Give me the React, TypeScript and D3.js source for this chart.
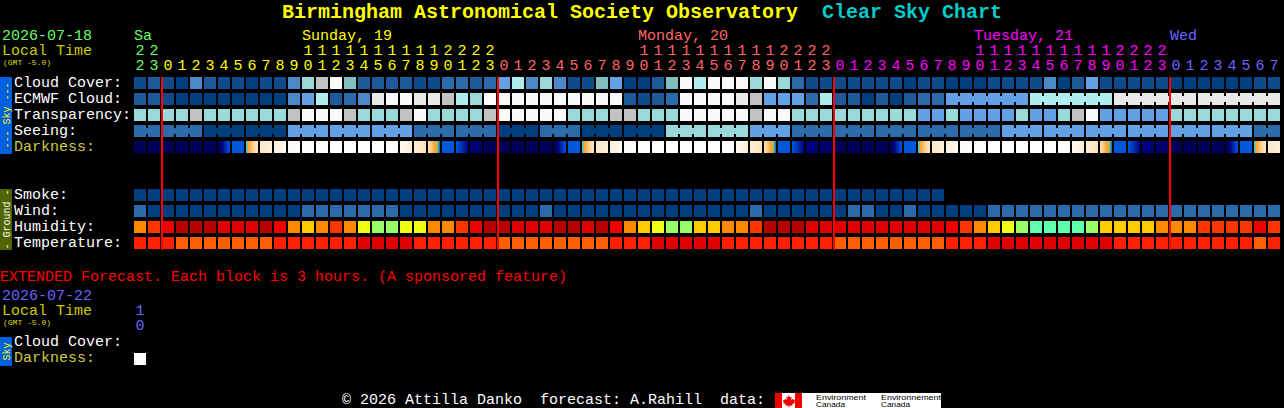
import * as d3 from "d3";

const hours = [
  22, 23, 0, 1, 2, 3, 4, 5, 6, 7, 8, 9, 10, 11, 12, 13, 14, 15, 16, 17, 18, 19, 20, 21, 22, 23,
  0, 1, 2, 3, 4, 5, 6, 7, 8, 9, 10, 11, 12, 13, 14, 15, 16, 17, 18, 19, 20, 21, 22, 23,
  0, 1, 2, 3, 4, 5, 6, 7, 8, 9, 10, 11, 12, 13, 14, 15, 16, 17, 18, 19, 20, 21, 22, 23,
  0, 1, 2, 3, 4, 5, 6, 7,
];
const dayStarts = [0, 2, 26, 50, 74];
const dayColors = ["#66ff66", "#ffff00", "#ff6666", "#ff00ff", "#6666ff"];
const dayLabels = [
  { cell: 0, text: "Sa", day: 0 },
  { cell: 12, text: "Sunday, 19", day: 1 },
  { cell: 36, text: "Monday, 20", day: 2 },
  { cell: 60, text: "Tuesday, 21", day: 3 },
  { cell: 74, text: "Wed", day: 4 },
];
const midnights = [2, 26, 50, 74];

const skyRows = ["Cloud Cover:", "ECMWF Cloud:", "Transparency:", "Seeing:", "Darkness:"];
const groundRows = ["Smoke:", "Wind:", "Humidity:", "Temperature:"];

// sky shades, dark blue (clear) to white
const skyPalette = [
  "#003f7f", "#0d4b8b", "#1c5a9a", "#2c6bab", "#4a88c8", "#62a2e4", "#7fbfbf",
  "#99d9d9", "#afeeee", "#c2c2c2", "#e9e9e9", "#f9f9f9", "#ffffff",
];
const humidityPalette = ["#b80000", "#e00000", "#ee0000", "#ff3300", "#ff8800", "#ffcc00", "#eeff11", "#99ff66", "#5fffb0"];
const temperaturePalette = ["#e00000", "#ff2000", "#ff5f00"];

const cloudCover = [
  1, 2, 1, 0, 4, 2, 1, 1, 0, 1, 1, 4, 7, 9, 11, 6, 2, 2, 2, 2, 1, 1,
  3, 3, 2, 3, 5, 8, 4, 7, 4, 1, 1, 6, 5, 0, 0, 2, 6, 11, 8, 11, 11, 11, 7, 11, 7, 3, 1, 1, 1, 1,
  1, 1, 1, 0, 1, 1, 0, 0, 0, 1, 1, 1, 1, 4, 0, 2, 5, 1, 1, 1, 1, 1, 0, 0, 0, 0, 0, 0, 1, 1,
];
const ecmwfCloud = [
  2, 2, 1, 0, 0, 0, 0, 0, 0, 0, 0, 4, 5, 8, 2, 3, 4, 10, 11, 11, 10, 10,
  9, 8, 7, 12, 11, 11, 11, 11, 11, 11, 11, 11, 11, 2, 1, 2, 3, 11, 11, 11, 11, 10, 9, 5, 5, 5, 3, 8, 2, 2,
  0, 2, 0, 2, 3, 3, 5, 5, 5, 5, 5, 5, 8, 8, 8, 8, 8, 8, 10, 10, 10, 10, 10, 10, 10, 10, 10, 10, 10, 10,
];
const transparency = [
  7, 7, 7, 7, 9, 7, 7, 7, 7, 7, 7, 9, 11, 11, 11, 9, 7, 7, 7, 9, 11, 7,
  7, 7, 7, 9, 11, 11, 11, 11, 11, 7, 7, 7, 9, 9, 7, 7, 7, 11, 11, 11, 11, 11, 9, 11, 11, 7, 7, 7, 7, 7,
  7, 7, 7, 7, 5, 5, 7, 5, 5, 5, 5, 7, 5, 5, 7, 9, 11, 5, 5, 5, 5, 5, 7, 7, 7, 7, 7, 7, 7, 7,
];
// seeing comes in 3 hour blocks
const seeingBlockSizes = [2, 3, 3, 3, 3, 3, 3, 3, 3, 3, 3, 3, 3, 3, 3, 3, 3, 3, 3, 3, 3, 3, 3, 3, 3, 3, 3, 2];
const seeingBlocks = [3, 3, 0, 0, 5, 5, 5, 3, 3, 0, 3, 0, 0, 7, 7, 5, 3, 3, 3, 3, 3, 5, 5, 5, 5, 5, 5, 3];
// ECMWF goes to 6 hour blocks at the far end
const ecmwfBlockStarts = [58, 64, 70, 76];
const ecmwfBlockSize = 6;

const smoke = [
  0, 0, 0, 0, 0, 0, 0, 0, 0, 0, 0, 0, 0, 0, 0, 0, 0, 0, 0, 0, 0, 0, 0, 0, 0, 0, 0, 0, 0,
  0, 0, 0, 0, 0, 0, 0, 0, 0, 0, 0, 0, 0, 0, 0, 0, 0, 0, 0, 0, 0, 0, 0, 0, 0, 0, 0, 0, 0,
];
const wind = [
  3, 0, 0, 0, 0, 0, 0, 0, 0, 0, 0, 0, 3, 3, 3, 3, 3, 3, 3, 0, 0, 0,
  0, 0, 0, 0, 0, 0, 0, 3, 0, 0, 0, 0, 0, 0, 0, 0, 0, 0, 0, 0, 0, 0, 3, 0, 0, 0, 0, 0, 0, 3,
  3, 0, 0, 3, 0, 0, 0, 0, 0, 3, 3, 3, 3, 3, 3, 3, 3, 3, 3, 3, 3, 3, 3, 3, 3, 3, 3, 3, 3, 3,
];
const humidity = [
  4, 3, 2, 0, 0, 0, 1, 1, 1, 0, 2, 4, 5, 4, 3, 4, 6, 7, 7, 6, 6, 4,
  4, 3, 2, 0, 0, 1, 1, 1, 0, 0, 1, 0, 2, 4, 5, 6, 7, 7, 5, 5, 4, 4, 3, 0, 0, 0, 1, 1, 1, 1,
  1, 1, 1, 1, 1, 1, 2, 3, 4, 5, 6, 7, 8, 8, 8, 8, 7, 5, 5, 5, 5, 4, 4, 4, 3, 3, 3, 3, 2, 3,
];
const temperature = [
  1, 1, 1, 2, 2, 2, 2, 2, 2, 2, 1, 1, 1, 1, 1, 1, 0, 0, 0, 0, 1, 1,
  1, 1, 1, 1, 2, 2, 2, 2, 2, 2, 2, 2, 1, 1, 1, 0, 0, 0, 0, 0, 1, 1, 1, 1, 1, 1, 1, 1, 2, 2,
  2, 2, 2, 2, 2, 2, 1, 1, 1, 0, 0, 0, 0, 0, 0, 0, 0, 0, 1, 1, 1, 1, 1, 1, 1, 1, 1, 1, 2, 1,
];

// darkness is sampled a few times inside each cell because it changes within the hour
const darknessStops = ["#000058", "#000080", "#0030b0", "#0058dc", "#00e0e0", "#80c860", "#ffa030", "#ffd090", "#ffe8c8", "#fff4e6", "#ffffff"];
const darkness: number[][] = [
  [0], [0], [0], [0], [0], [0], [0, 1, 2, 3], [3], [4, 6, 6.5, 7, 7.5, 8], [8, 8.5], [8.5, 9.5],
  [9.5, 10], [10], [10], [10], [10], [10], [10], [10, 9.5], [9.5, 8.5], [8.5, 7.8], [7.5, 7, 6.5, 6, 5, 3],
  [3], [3, 2, 1], [1, 0.5], [0], [0], [0], [0], [0], [0, 1, 2, 3], [3], [4, 6, 6.5, 7, 7.5, 8], [8, 8.5], [8.5, 9.5],
  [9.5, 10], [10], [10], [10], [10], [10], [10], [10, 9.5], [9.5, 8.5], [8.5, 7.8], [7.5, 7, 6.5, 6, 5, 3],
  [3], [3, 2, 1], [1, 0.8], [0.5], [0], [0], [0], [0], [0, 1, 2, 3], [3], [4, 6, 6.5, 7, 7.5, 8], [8, 8.5], [8.5, 9.5],
  [9.5, 10], [10], [10], [10], [10], [10], [10], [10, 9.5], [9.5, 8.5], [8.5, 7.8], [7.5, 7, 6.5, 6, 5, 3],
  [3], [3, 2, 1], [1, 0.8], [0.5], [0], [0], [0], [0], [0, 1, 2, 3], [3], [4, 6, 6.5, 7, 7.5, 8], [8, 8.5],
];

const extendedDarkness = [10];

const mono = "'Liberation Mono', monospace";
const cellHeight = 12;

const x = d3
  .scaleBand<number>()
  .domain(d3.range(hours.length))
  .range([133, 1281])
  .paddingInner(1 / 7)
  .paddingOuter(1 / 14);

const skyY = d3.scaleBand<string>().domain(skyRows).range([77, 157]);
const groundY = d3.scaleBand<string>().domain(groundRows).range([189, 253]);

const skyColor = d3.scaleOrdinal<number, string>().domain(d3.range(skyPalette.length)).range(skyPalette);
const humidityColor = d3.scaleOrdinal<number, string>().domain(d3.range(humidityPalette.length)).range(humidityPalette);
const temperatureColor = d3.scaleOrdinal<number, string>().domain(d3.range(temperaturePalette.length)).range(temperaturePalette);
const darknessColor = d3
  .scaleLinear<string>()
  .domain(d3.range(darknessStops.length))
  .range(darknessStops)
  .interpolate(d3.interpolateRgb);

const dayOf = (i: number) => d3.bisectRight(dayStarts, i) - 1;

// seeing per cell, expanded from the blocks
const seeing = seeingBlockSizes.flatMap((size, i) => d3.range(size).map(() => seeingBlocks[i]));

// cell indexes whose right edge joins the next cell
const seeingJoins: number[] = [];
let cursor = 0;
seeingBlockSizes.forEach((size) => {
  d3.range(size - 1).forEach((k) => seeingJoins.push(cursor + k));
  cursor += size;
});
const ecmwfJoins = ecmwfBlockStarts.flatMap((s) => d3.range(ecmwfBlockSize - 1).map((k) => s + k));

function Row({ y, values, color }: { y: number; values: number[]; color: (v: number) => string }) {
  return (
    <g shapeRendering="crispEdges">
      {values.map((v, i) => (
        <rect key={i} x={x(i)} y={y} width={x.bandwidth()} height={cellHeight} fill={color(v)} />
      ))}
    </g>
  );
}

function Joins({ y, cells, values, color }: { y: number; cells: number[]; values: number[]; color: (v: number) => string }) {
  return (
    <g shapeRendering="crispEdges">
      {cells.map((c) => (
        <rect key={c} x={(x(c) ?? 0) + x.bandwidth()} y={y + 3} width={x.step() - x.bandwidth()} height={6} fill={color(values[c])} />
      ))}
    </g>
  );
}

function Label({ x: lx, y, fill = "#ffffff", children }: { x: number; y: number; fill?: string; children: React.ReactNode }) {
  return (
    <text x={lx} y={y} fill={fill} fontFamily={mono} fontSize={15} style={{ whiteSpace: "pre" }}>
      {children}
    </text>
  );
}

function SideBar({ y, height, fill, color, text, size = 10 }: { y: number; height: number; fill: string; color: string; text: string; size?: number }) {
  const cy = y + height / 2;
  return (
    <g>
      <rect x={0} y={y} width={12} height={height} fill={fill} shapeRendering="crispEdges" />
      <text
        transform={`translate(9.5,${cy}) rotate(-90)`}
        textAnchor="middle"
        fill={color}
        fontFamily={mono}
        fontSize={size}
      >
        {text}
      </text>
    </g>
  );
}

export default function App() {
  return (
    <svg
      width={1284}
      height={408}
      viewBox="0 0 1284 408"
      style={{ position: "fixed", left: 0, top: 0, background: "#000" }}
    >
      <defs>
        {darkness.map((samples, i) =>
          samples.length > 1 ? (
            <linearGradient key={i} id={`dark-${i}`}>
              {samples.map((s, k) => (
                <stop key={k} offset={k / (samples.length - 1)} stopColor={darknessColor(s)} />
              ))}
            </linearGradient>
          ) : null
        )}
      </defs>

      <text y={18} fontFamily={mono} fontSize={20} fontWeight="bold" style={{ whiteSpace: "pre" }}>
        <tspan x={282} fill="#ffff00">Birmingham Astronomical Society Observatory</tspan>
        <tspan x={822} fill="#00cccc">Clear Sky Chart</tspan>
      </text>

      <Label x={2} y={40} fill="#66ff66">2026-07-18</Label>
      <Label x={2} y={55} fill="#cccc00">Local Time</Label>
      <text x={3} y={65} fill="#dddd00" fontFamily={mono} fontSize={8}>(GMT -5.0)</text>

      {dayLabels.map((d) => (
        <Label key={d.text} x={x(d.cell) ?? 0} y={40} fill={dayColors[d.day]}>{d.text}</Label>
      ))}

      {hours.map((h, i) => {
        const cx = (x(i) ?? 0) + x.bandwidth() / 2;
        const fill = dayColors[dayOf(i)];
        return (
          <g key={i} fontFamily={mono} fontSize={15} textAnchor="middle" fill={fill}>
            {h >= 10 && <text x={cx} y={55}>{Math.floor(h / 10)}</text>}
            <text x={cx} y={70}>{h % 10}</text>
          </g>
        );
      })}

      <SideBar y={77} height={77} fill="#0060e0" color="#ffff00" text="--- Sky ---" />
      <SideBar y={189} height={61} fill="#506400" color="#ffffff" text="- Ground -" />

      {skyRows.map((name) => (
        <Label key={name} x={14} y={(skyY(name) ?? 0) + 10} fill={name === "Darkness:" ? "#cccc44" : "#ffffff"}>{name}</Label>
      ))}
      {groundRows.map((name) => (
        <Label key={name} x={14} y={(groundY(name) ?? 0) + 10}>{name}</Label>
      ))}

      <Row y={skyY("Cloud Cover:") ?? 0} values={cloudCover} color={skyColor} />
      <Row y={skyY("ECMWF Cloud:") ?? 0} values={ecmwfCloud} color={skyColor} />
      <Joins y={skyY("ECMWF Cloud:") ?? 0} cells={ecmwfJoins} values={ecmwfCloud} color={skyColor} />
      <Row y={skyY("Transparency:") ?? 0} values={transparency} color={skyColor} />
      <Row y={skyY("Seeing:") ?? 0} values={seeing} color={skyColor} />
      <Joins y={skyY("Seeing:") ?? 0} cells={seeingJoins} values={seeing} color={skyColor} />

      <g shapeRendering="crispEdges">
        {darkness.map((samples, i) => (
          <rect
            key={i}
            x={x(i)}
            y={skyY("Darkness:")}
            width={x.bandwidth()}
            height={cellHeight}
            fill={samples.length > 1 ? `url(#dark-${i})` : darknessColor(samples[0])}
          />
        ))}
      </g>

      <Row y={groundY("Smoke:") ?? 0} values={smoke} color={skyColor} />
      <Row y={groundY("Wind:") ?? 0} values={wind} color={skyColor} />
      <Row y={groundY("Humidity:") ?? 0} values={humidity} color={humidityColor} />
      <Row y={groundY("Temperature:") ?? 0} values={temperature} color={temperatureColor} />

      {midnights.map((m) => (
        <rect key={m} x={(x(m) ?? 0) - 1} y={77} width={2} height={173} fill="#ff0000" shapeRendering="crispEdges" />
      ))}

      <Label x={0} y={281} fill="#ff0000">EXTENDED Forecast. Each block is 3 hours. (A sponsored feature)</Label>
      <Label x={2} y={300} fill="#6666ff">2026-07-22</Label>
      <Label x={2} y={315} fill="#cccc00">Local Time</Label>
      <text x={3} y={325} fill="#dddd00" fontFamily={mono} fontSize={8}>(GMT -5.0)</text>
      <g fontFamily={mono} fontSize={15} textAnchor="middle" fill="#6666ff">
        <text x={(x(0) ?? 0) + x.bandwidth() / 2} y={315}>1</text>
        <text x={(x(0) ?? 0) + x.bandwidth() / 2} y={330}>0</text>
      </g>
      <SideBar y={337} height={29} fill="#0060e0" color="#ffff00" text="Sky" />
      <Label x={14} y={346}>Cloud Cover:</Label>
      <Label x={14} y={362} fill="#cccc44">Darkness:</Label>
      <Row y={353} values={extendedDarkness} color={(v) => darknessColor(v)} />

      <Label x={342} y={404}>© 2026 Attilla Danko  forecast: A.Rahill  data:</Label>

      <g>
        <rect x={775} y={393} width={166} height={15} fill="#ffffff" shapeRendering="crispEdges" />
        <rect x={775} y={393} width={7} height={15} fill="#ee0000" shapeRendering="crispEdges" />
        <rect x={795} y={393} width={7} height={15} fill="#ee0000" shapeRendering="crispEdges" />
        <path d="M788.5 395 l1.6 2.6 1.6 -0.8 -0.6 3.2 1.8 -1.2 0.6 1.2 1.6 -0.2 -0.8 2 0.8 0.6 -3 2.2 0.4 1.2 -3 -0.4 v1.8 h-1 v-1.8 l-3 0.4 0.4 -1.2 -3 -2.2 0.8 -0.6 -0.8 -2 1.6 0.2 0.6 -1.2 1.8 1.2 -0.6 -3.2 1.6 0.8 z" fill="#ee0000" />
        <g fill="#000000" fontFamily="'Liberation Sans', sans-serif" fontSize={8}>
          <text x={816} y={399.5} textLength={50} lengthAdjust="spacingAndGlyphs">Environment</text>
          <text x={816} y={407} textLength={29} lengthAdjust="spacingAndGlyphs">Canada</text>
          <text x={881} y={399.5} textLength={60} lengthAdjust="spacingAndGlyphs">Environnement</text>
          <text x={881} y={407} textLength={29} lengthAdjust="spacingAndGlyphs">Canada</text>
        </g>
      </g>
    </svg>
  );
}
